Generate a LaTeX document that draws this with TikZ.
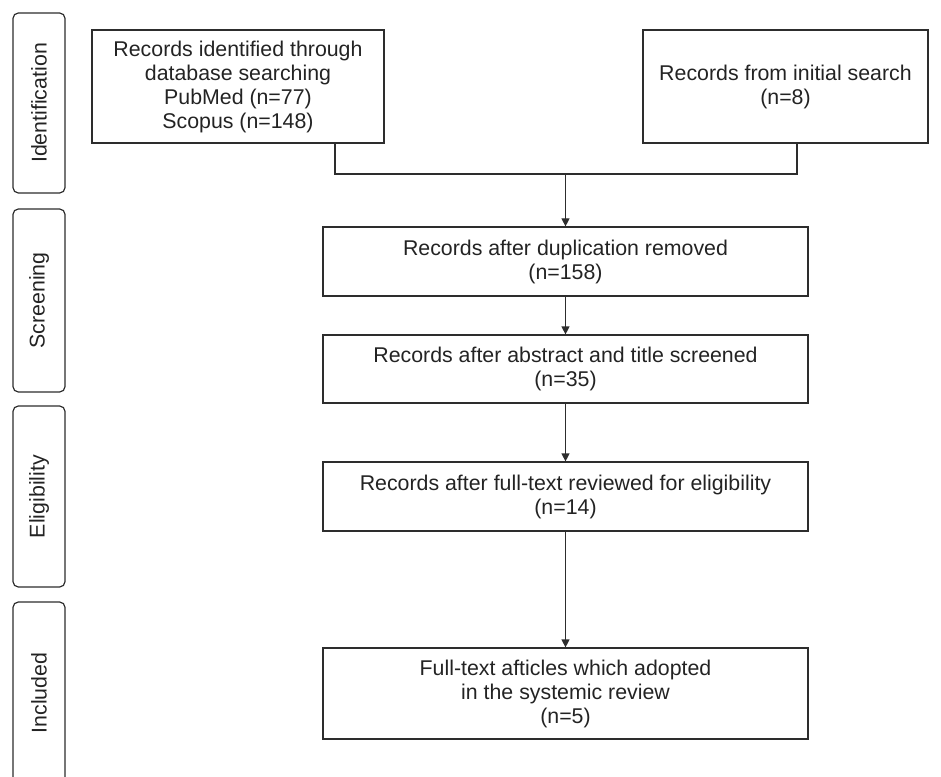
\documentclass[tikz,border=0pt]{standalone}
\usepackage{fontspec}
\setmainfont{Liberation Sans}
\usepackage{tikz}
\usetikzlibrary{positioning, calc, arrows.meta}
\definecolor{lineDark}{RGB}{45,45,45}
\definecolor{textDark}{RGB}{35,35,35}

\begin{document}
\begin{tikzpicture}[x=0.75pt, y=-0.75pt,
    stagebox/.style={draw=lineDark, line width=0.9pt, rounded corners=4pt, rotate=90,
      minimum height=39pt, inner sep=0pt, text=textDark, font=\fontsize{16}{18}\selectfont},
    recbox/.style={draw=lineDark, line width=0.9pt, align=center, inner sep=0pt,
      text=textDark, font=\fontsize{16}{18}\selectfont},
    mainbox/.style={recbox, minimum width=363.75pt},
    flow/.style={draw=lineDark, line width=0.9pt, -{Triangle[length=6pt, width=6pt]}}]
  \useasboundingbox (0,0) rectangle (941,777);
  \foreach \nm/\txt/\cy/\h in {idStage/Identification/103/180, scrStage/Screening/300.5/183,
      eliStage/Eligibility/496.5/181, incStage/Included/693/182}{
    \node[stagebox, minimum width=\h*0.75pt] (\nm) at (39,\cy) {\txt};
  }
  \node[recbox, minimum width=219pt, minimum height=84.75pt] (dbRec) at (238,86.5)
    {Records identified through\\database searching\\PubMed (n=77)\\Scopus (n=148)};
  \node[recbox, minimum width=213.75pt, minimum height=84.75pt] (initRec) at (785.5,86.5)
    {Records from initial search\\(n=8)};
  \node[mainbox, minimum height=51.75pt] (dedup) at (565.5,261.5)
    {Records after duplication removed\\(n=158)};
  \node[mainbox, minimum height=51pt] (screened) at (565.5,369)
    {Records after abstract and title screened\\(n=35)};
  \node[mainbox, minimum height=51.75pt] (fulltext) at (565.5,496.5)
    {Records after full-text reviewed for eligibility\\(n=14)};
  \node[mainbox, minimum height=68.25pt] (included) at (565.5,693.5)
    {Full-text afticles which adopted\\in the systemic review\\(n=5)};
  \coordinate (legL) at (dbRec.south -| 335,0);
  \coordinate (legR) at (initRec.south -| 797,0);
  \coordinate (merge) at (565.5,174);
  \draw[lineDark, line width=0.9pt] (legL) |- (merge) -| (legR);
  \draw[flow] (merge) -- (dedup);
  \draw[flow] (dedup) -- (screened);
  \draw[flow] (screened) -- (fulltext);
  \draw[flow] (fulltext) -- (included);
\end{tikzpicture}
\end{document}
